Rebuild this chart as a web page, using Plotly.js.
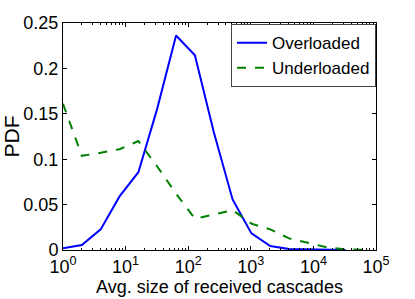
<!DOCTYPE html>
<html>
<head>
<meta charset="utf-8">
<script src="https://cdn.plot.ly/plotly-3.0.1.min.js"></script>
<style>html,body{margin:0;padding:0;background:#fff;}#chart{width:415px;height:299px;}</style>
</head>
<body>
<div id="chart"></div>
<script>
const overX = [1, 2, 4, 8, 16, 32, 64, 128, 256, 512, 1024, 2048, 4096, 8192, 16384, 32768];
const overY = [0.002, 0.0055, 0.0227, 0.059, 0.0857, 0.1557, 0.2363, 0.2145, 0.13, 0.0557, 0.0183, 0.0044, 0.001, 0.0005, 0.0002, 0.0001];
const underX = [1, 2, 4, 8, 16, 32, 64, 128, 256, 512, 1024, 2048, 4096, 8192, 16384, 32768, 65536];
const underY = [0.161, 0.1037, 0.107, 0.111, 0.120, 0.092, 0.062, 0.0345, 0.039, 0.044, 0.029, 0.0227, 0.0128, 0.0075, 0.003, 0.0008, 0.0002];
const xTickVals = [1, 10, 100, 1000, 10000, 100000];
const xTickText = ['10<sup>0</sup>', '10<sup>1</sup>', '10<sup>2</sup>', '10<sup>3</sup>', '10<sup>4</sup>', '10<sup>5</sup>'];
const yTickVals = [0, 0.05, 0.1, 0.15, 0.2, 0.25];
const yTickText = ['0', '0.05', '0.1', '0.15', '0.2', '0.25'];

const traces = [
  {x: overX, y: overY, type: 'scatter', mode: 'lines', name: 'Overloaded',
   line: {color: '#0000ff', width: 2}},
  {x: underX, y: underY, type: 'scatter', mode: 'lines', name: 'Underloaded',
   line: {color: '#008000', width: 2, dash: 'dash'}}
];
const font = {family: 'Liberation Sans, Arial, sans-serif', color: '#000'};
const layout = {
  width: 415, height: 299,
  margin: {l: 63, r: 39, t: 23, b: 49},
  paper_bgcolor: '#fff', plot_bgcolor: '#fff',
  font: Object.assign({size: 17}, font),
  showlegend: true,
  legend: {x: 1, xanchor: 'right', y: 0.995, yanchor: 'top',
    bordercolor: '#444', borderwidth: 1, bgcolor: '#fff',
    font: Object.assign({size: 17}, font), tracegroupgap: 0},
  xaxis: {type: 'log', range: [0, 5], tickvals: xTickVals, ticktext: xTickText,
    ticks: 'inside', ticklen: 4, tickcolor: '#000', showline: true, linecolor: '#000', linewidth: 1,
    mirror: 'ticks', showgrid: false, zeroline: false,
    tickfont: Object.assign({size: 18}, font),
    minor: {ticks: 'inside', ticklen: 2, tickcolor: '#000', dtick: 'D1', showgrid: false},
    title: {text: 'Avg. size of received cascades', font: Object.assign({size: 18}, font), standoff: 0}},
  yaxis: {range: [0, 0.25], tickvals: yTickVals, ticktext: yTickText,
    ticks: 'inside', ticklen: 4, tickcolor: '#000', showline: true, linecolor: '#000', linewidth: 1,
    mirror: 'ticks', showgrid: false, zeroline: false,
    tickfont: Object.assign({size: 18}, font),
    title: {text: 'PDF', font: Object.assign({size: 21}, font), standoff: 4}}
};
Plotly.newPlot('chart', traces, layout, {displayModeBar: false, staticPlot: true});
</script>
</body>
</html>
